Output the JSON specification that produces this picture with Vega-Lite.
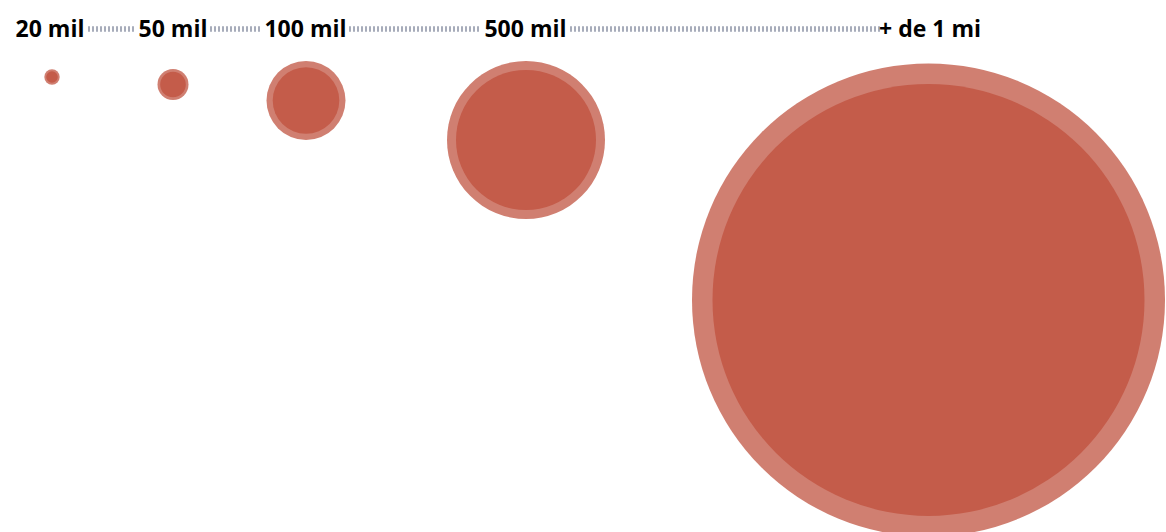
{
  "$schema": "https://vega.github.io/schema/vega-lite/v6.json",
  "width": 1166,
  "height": 532,
  "autosize": "none",
  "padding": 0,
  "background": "white",
  "config": {"view": {"stroke": null}},
  "datasets": {
    "circles": [
      {"label": "20 mil", "cx": 52, "cy": 77, "outer": 7.7, "inner": 5.8},
      {"label": "50 mil", "cx": 173, "cy": 84.5, "outer": 15.5, "inner": 12.8},
      {"label": "100 mil", "cx": 306, "cy": 100.5, "outer": 39.5, "inner": 33.3},
      {"label": "500 mil", "cx": 526, "cy": 140, "outer": 79, "inner": 70},
      {"label": "+ de 1 mi", "cx": 928.5, "cy": 300, "outer": 236.5, "inner": 216}
    ],
    "labels": [
      {"label": "20 mil", "lx": 50},
      {"label": "50 mil", "lx": 173},
      {"label": "100 mil", "lx": 305.5},
      {"label": "500 mil", "lx": 525.5},
      {"label": "+ de 1 mi", "lx": 930}
    ],
    "dots": [
      {"from": 88, "to": 136},
      {"from": 210, "to": 262},
      {"from": 349, "to": 480},
      {"from": 570, "to": 881}
    ]
  },
  "layer": [
    {
      "data": {"name": "dots"},
      "mark": {"type": "rule", "color": "#a7acba", "strokeWidth": 5.5, "strokeDash": [2, 2]},
      "encoding": {
        "x": {"field": "from", "type": "quantitative", "scale": {"domain": [0, 1166], "nice": false, "zero": false}, "axis": null},
        "x2": {"field": "to"},
        "y": {"datum": 29, "type": "quantitative", "scale": {"domain": [0, 532], "reverse": true, "nice": false, "zero": false}, "axis": null}
      }
    },
    {
      "data": {"name": "labels"},
      "mark": {"type": "text", "font": "Open Sans", "fontWeight": "bold", "fontSize": 23, "color": "#000000", "baseline": "alphabetic", "align": "center"},
      "encoding": {
        "x": {"field": "lx", "type": "quantitative"},
        "y": {"datum": 37, "type": "quantitative"},
        "text": {"field": "label"}
      }
    },
    {
      "data": {"name": "circles"},
      "mark": {"type": "circle", "color": "#d07f71", "opacity": 1},
      "encoding": {
        "x": {"field": "cx", "type": "quantitative"},
        "y": {"field": "cy", "type": "quantitative"},
        "size": {"field": "outer", "type": "quantitative", "scale": {"type": "pow", "exponent": 2, "domain": [0, 1], "range": [0, 4], "clamp": false, "zero": true}, "legend": null}
      }
    },
    {
      "data": {"name": "circles"},
      "mark": {"type": "circle", "color": "#c45c4a", "opacity": 1},
      "encoding": {
        "x": {"field": "cx", "type": "quantitative"},
        "y": {"field": "cy", "type": "quantitative"},
        "size": {"field": "inner", "type": "quantitative", "legend": null}
      }
    }
  ]
}
